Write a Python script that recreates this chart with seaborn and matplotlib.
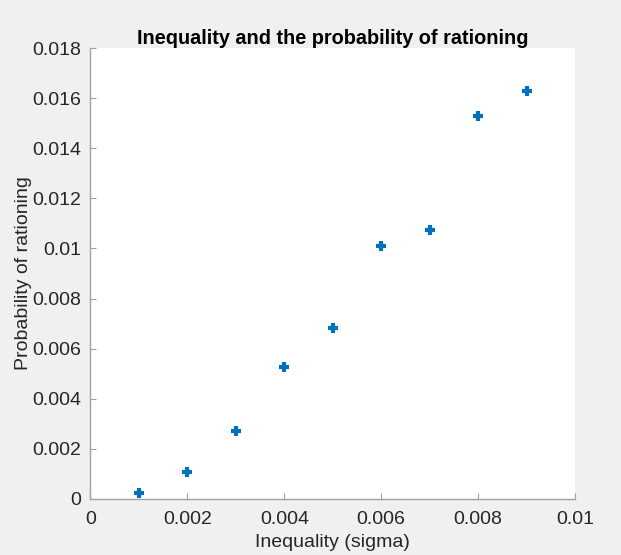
import matplotlib
matplotlib.use("Agg")
import matplotlib.pyplot as plt
import seaborn as sns
import pandas as pd
from matplotlib.ticker import FormatStrFormatter, MultipleLocator

sigma = [0.001, 0.002, 0.003, 0.004, 0.005, 0.006, 0.007, 0.008, 0.009]
prob = [0.00024, 0.00106, 0.00272, 0.00526, 0.00682, 0.0101, 0.01073, 0.01529, 0.01631]

sns.set_style("white")
plt.rcParams['font.family'] = ['Liberation Sans', 'DejaVu Sans']

fig = plt.figure(figsize=(6.21, 5.55), dpi=100, facecolor='#f0f0f0')
ax = fig.add_axes([0.1457, 0.1014, 0.9259 - 0.1457, 0.913 - 0.1014])
ax.set_facecolor('white')

df = pd.DataFrame({'sigma': sigma, 'prob': prob})
sns.scatterplot(data=df, x='sigma', y='prob', marker='+', s=60, color='#0072BD',
                linewidth=3, ax=ax)

ax.set_xlim(0, 0.01)
ax.set_ylim(0, 0.018)
ax.xaxis.set_major_locator(MultipleLocator(0.002))
ax.yaxis.set_major_locator(MultipleLocator(0.002))
ax.xaxis.set_major_formatter(FormatStrFormatter('%g'))
ax.yaxis.set_major_formatter(FormatStrFormatter('%g'))

for s in ['top', 'right']:
    ax.spines[s].set_visible(False)
for s in ['left', 'bottom']:
    ax.spines[s].set_color('#a0a0a0')
    ax.spines[s].set_linewidth(1.0)

ax.tick_params(direction='in', length=4, width=0.8, color='#a0a0a0',
               labelsize=14, labelcolor='#262626', left=True, bottom=True)
ax.tick_params(axis='x', pad=9)
ax.tick_params(axis='y', pad=7)

ax.set_xlabel('Inequality (sigma)', fontsize=14, color='#262626', labelpad=4)
ax.set_ylabel('Probability of rationing', fontsize=14, color='#262626', labelpad=0)
ax.set_title('Inequality and the probability of rationing', fontsize=14.3,
             fontweight='bold', color='black', pad=3)

fig.savefig('out.png', dpi=100, facecolor=fig.get_facecolor())
